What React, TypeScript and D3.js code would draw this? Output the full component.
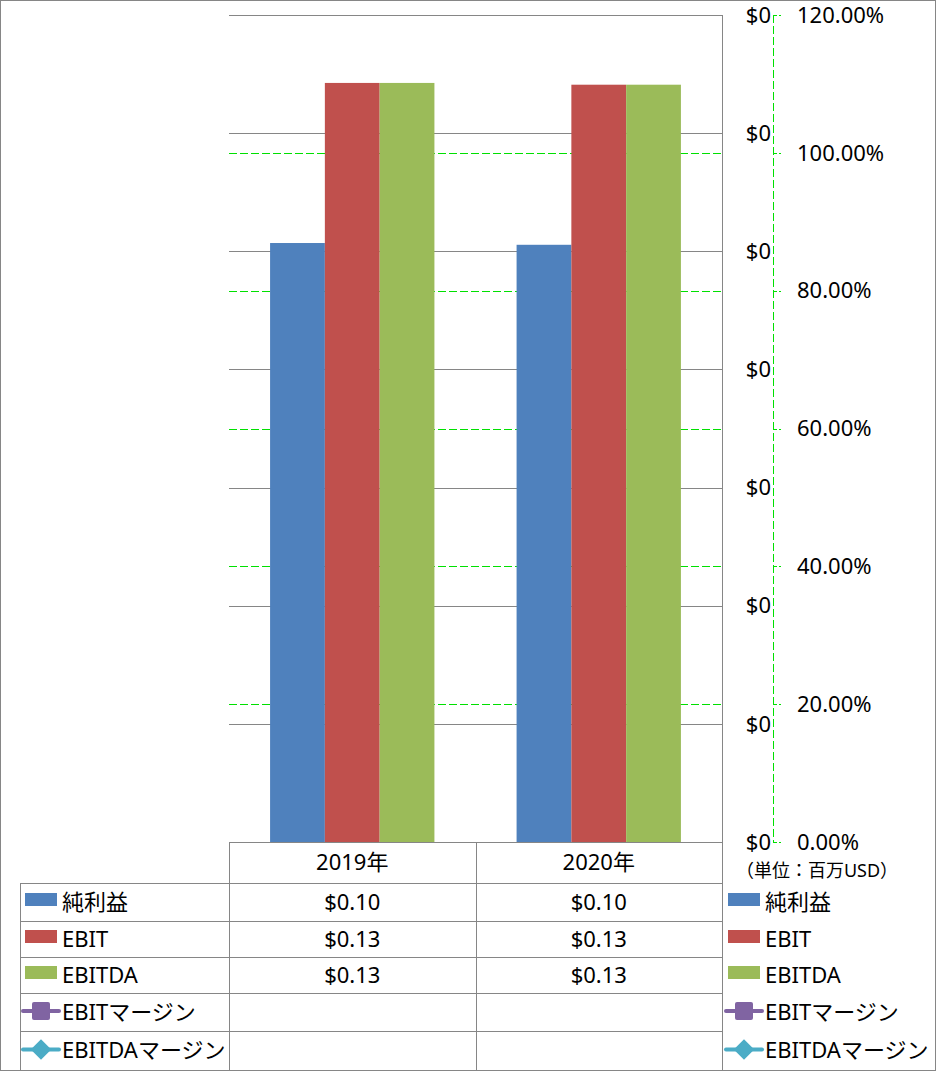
import React, { useEffect, useRef } from "react";
import * as d3 from "d3";

// chart values
const categories = ["2019年", "2020年"];
const netIncome = [0.1014, 0.1011];
const ebit = [0.1285, 0.1282];
const ebitda = [0.1285, 0.1282];
const ebitMargin: (number | null)[] = [null, null];
const ebitdaMargin: (number | null)[] = [null, null];
const valueTicks = [0, 0.02, 0.04, 0.06, 0.08, 0.1, 0.12, 0.14];
const pctTicks = [0, 0.2, 0.4, 0.6, 0.8, 1.0, 1.2];
const unitLabel = "（単位：百万USD）";

const barSeries = [
  { name: "純利益", values: netIncome, color: "#4F81BD" },
  { name: "EBIT", values: ebit, color: "#C0504D" },
  { name: "EBITDA", values: ebitda, color: "#9BBB59" },
];
const lineSeries = [
  { name: "EBITマージン", values: ebitMargin, color: "#8064A2", marker: "square" },
  { name: "EBITDAマージン", values: ebitdaMargin, color: "#4BACC6", marker: "diamond" },
];

const FONT = "'Noto Sans', 'Noto Sans CJK JP', sans-serif";
const GRAY = "#868686";
const GREEN = "#00e000";
const FS = 22;

const ComboChart = () => {
  const ref = useRef<HTMLDivElement>(null);

  useEffect(() => {
    drawChart();
  }, []);

  const drawChart = () => {
    const width = 936;
    const height = 1071;
    const plot = { left: 229, right: 722, top: 15, bottom: 842 };
    const tableLeft = 20;
    const rowEdges = [842, 883, 921, 957, 993, 1031, 1070];

    d3.select(ref.current).selectAll("svg").remove();

    const svg = d3
      .select(ref.current)
      .append("svg")
      .attr("width", width)
      .attr("height", height)
      .style("position", "absolute")
      .style("left", "0px")
      .style("top", "0px")
      .style("font-family", FONT);

    svg.append("rect").attr("width", width).attr("height", height).attr("fill", "#fff");

    // scales
    const x0 = d3
      .scaleBand()
      .domain(categories)
      .range([plot.left, plot.right])
      .paddingInner(1 / 3)
      .paddingOuter(1 / 6);
    const x1 = d3
      .scaleBand()
      .domain(barSeries.map((s) => s.name))
      .range([0, x0.bandwidth()]);
    const y = d3.scaleLinear().domain([0, 0.14]).range([plot.bottom, plot.top]);
    const y2 = d3.scaleLinear().domain([0, 1.2]).range([plot.bottom, plot.top]);
    const colX = d3.scaleBand().domain(categories).range([plot.left, plot.right]);

    // secondary gridlines (green dashed)
    svg
      .append("g")
      .selectAll("line")
      .data(pctTicks.slice(1))
      .enter()
      .append("line")
      .attr("x1", plot.left)
      .attr("x2", plot.right)
      .attr("y1", (d) => Math.round(y2(d)) + 0.5)
      .attr("y2", (d) => Math.round(y2(d)) + 0.5)
      .attr("stroke", GREEN)
      .attr("stroke-dasharray", "8,3");

    // primary gridlines
    svg
      .append("g")
      .selectAll("line")
      .data(valueTicks.slice(1))
      .enter()
      .append("line")
      .attr("x1", plot.left)
      .attr("x2", plot.right)
      .attr("y1", (d) => Math.round(y(d)) + 0.5)
      .attr("y2", (d) => Math.round(y(d)) + 0.5)
      .attr("stroke", GRAY);

    // bars
    const groups = svg
      .append("g")
      .selectAll("g")
      .data(categories)
      .enter()
      .append("g")
      .attr("transform", (d) => `translate(${x0(d)},0)`);
    groups
      .selectAll("rect")
      .data((d, i) => barSeries.map((s) => ({ name: s.name, color: s.color, v: s.values[i] })))
      .enter()
      .append("rect")
      .attr("x", (d) => x1(d.name)!)
      .attr("width", x1.bandwidth())
      .attr("y", (d) => y(d.v))
      .attr("height", (d) => plot.bottom - y(d.v))
      .attr("fill", (d) => d.color);

    // margin lines (empty series)
    lineSeries.forEach((s) => {
      const pts = s.values
        .map((v, i) => ({ v, c: categories[i] }))
        .filter((p) => p.v != null) as { v: number; c: string }[];
      if (!pts.length) return;
      const line = d3
        .line<{ v: number; c: string }>()
        .x((p) => x0(p.c)! + x0.bandwidth() / 2)
        .y((p) => y2(p.v));
      svg.append("path").attr("d", line(pts)).attr("fill", "none").attr("stroke", s.color).attr("stroke-width", 3);
    });

    // plot right border
    svg
      .append("line")
      .attr("x1", plot.right + 0.5)
      .attr("x2", plot.right + 0.5)
      .attr("y1", plot.top)
      .attr("y2", rowEdges[rowEdges.length - 1])
      .attr("stroke", GRAY);

    // secondary axis line
    svg
      .append("line")
      .attr("x1", 773.5)
      .attr("x2", 773.5)
      .attr("y1", plot.top)
      .attr("y2", plot.bottom)
      .attr("stroke", GREEN)
      .attr("stroke-dasharray", "8,3");
    svg
      .append("g")
      .selectAll("line")
      .data(pctTicks)
      .enter()
      .append("line")
      .attr("x1", 773)
      .attr("x2", 781)
      .attr("y1", (d) => Math.round(y2(d)) + 0.5)
      .attr("y2", (d) => Math.round(y2(d)) + 0.5)
      .attr("stroke", GREEN)
      .attr("stroke-dasharray", "4,2");

    // axis labels
    const fmtVal = d3.format("$.0f");
    svg
      .append("g")
      .selectAll("text")
      .data(valueTicks)
      .enter()
      .append("text")
      .attr("x", 771)
      .attr("y", (d) => y(d))
      .attr("dy", "0.35em")
      .attr("text-anchor", "end")
      .attr("font-size", FS)
      .text((d) => fmtVal(d));
    const fmtPct = d3.format(".2%");
    svg
      .append("g")
      .selectAll("text")
      .data(pctTicks)
      .enter()
      .append("text")
      .attr("x", 797)
      .attr("y", (d) => y2(d))
      .attr("dy", "0.35em")
      .attr("font-size", FS)
      .text((d) => fmtPct(d));

    svg
      .append("text")
      .attr("x", 817)
      .attr("y", 871)
      .attr("dy", "0.35em")
      .attr("text-anchor", "middle")
      .attr("font-size", 18)
      .text(unitLabel);

    // data table lines
    const grid = svg.append("g").attr("stroke", GRAY);
    grid
      .append("line")
      .attr("x1", plot.left)
      .attr("x2", plot.right)
      .attr("y1", rowEdges[0] + 0.5)
      .attr("y2", rowEdges[0] + 0.5);
    rowEdges.slice(1, -1).forEach((ry) => {
      grid
        .append("line")
        .attr("x1", tableLeft)
        .attr("x2", plot.right)
        .attr("y1", ry + 0.5)
        .attr("y2", ry + 0.5);
    });
    categories.forEach((c) => {
      grid
        .append("line")
        .attr("x1", Math.round(colX(c)!) + 0.5)
        .attr("x2", Math.round(colX(c)!) + 0.5)
        .attr("y1", rowEdges[0])
        .attr("y2", rowEdges[rowEdges.length - 1]);
    });
    grid
      .append("line")
      .attr("x1", tableLeft + 0.5)
      .attr("x2", tableLeft + 0.5)
      .attr("y1", rowEdges[1])
      .attr("y2", rowEdges[rowEdges.length - 1]);

    const rowMid = (i: number) => (rowEdges[i] + rowEdges[i + 1]) / 2;

    // header
    svg
      .append("g")
      .selectAll("text")
      .data(categories)
      .enter()
      .append("text")
      .attr("x", (d) => colX(d)! + colX.bandwidth() / 2)
      .attr("y", rowMid(0))
      .attr("dy", "0.35em")
      .attr("text-anchor", "middle")
      .attr("font-size", FS)
      .text((d) => d);

    // values
    const fmtCell = d3.format("$.2f");
    barSeries.forEach((s, r) => {
      svg
        .append("g")
        .selectAll("text")
        .data(s.values)
        .enter()
        .append("text")
        .attr("x", (d, i) => colX(categories[i])! + colX.bandwidth() / 2)
        .attr("y", rowMid(r + 1))
        .attr("dy", "0.35em")
        .attr("text-anchor", "middle")
        .attr("font-size", FS)
        .text((d) => fmtCell(d));
    });

    // legend keys (in table and on the right)
    const drawKeys = (kx: number) => {
      const g = svg.append("g");
      barSeries.forEach((s, r) => {
        const cy = rowMid(r + 1);
        g.append("rect")
          .attr("x", kx)
          .attr("y", cy - 9)
          .attr("width", 32)
          .attr("height", 13)
          .attr("fill", s.color);
        g.append("text")
          .attr("x", kx + 37)
          .attr("y", cy)
          .attr("dy", "0.35em")
          .attr("font-size", FS)
          .text(s.name);
      });
      lineSeries.forEach((s, k) => {
        const cy = rowMid(barSeries.length + k + 1) - 1;
        g.append("line")
          .attr("x1", kx - 2)
          .attr("x2", kx + 34)
          .attr("y1", cy)
          .attr("y2", cy)
          .attr("stroke", s.color)
          .attr("stroke-width", 4)
          .attr("stroke-linecap", "round");
        if (s.marker === "square") {
          g.append("rect")
            .attr("x", kx + 7)
            .attr("y", cy - 9)
            .attr("width", 18)
            .attr("height", 18)
            .attr("rx", 2)
            .attr("fill", s.color);
        } else {
          g.append("path")
            .attr("d", d3.symbol(d3.symbolSquare, 210)())
            .attr("transform", `translate(${kx + 16},${cy}) rotate(45)`)
            .attr("fill", s.color);
        }
        g.append("text")
          .attr("x", kx + 37)
          .attr("y", cy + 1)
          .attr("dy", "0.35em")
          .attr("font-size", FS)
          .text(s.name);
      });
    };
    drawKeys(25);
    drawKeys(728);

    // outer border
    svg
      .append("rect")
      .attr("x", 0.5)
      .attr("y", 0.5)
      .attr("width", width - 1)
      .attr("height", height - 1)
      .attr("fill", "none")
      .attr("stroke", GRAY);
  };

  return <div ref={ref} className="combo-chart"></div>;
};

export default function App() {
  return <ComboChart />;
}
